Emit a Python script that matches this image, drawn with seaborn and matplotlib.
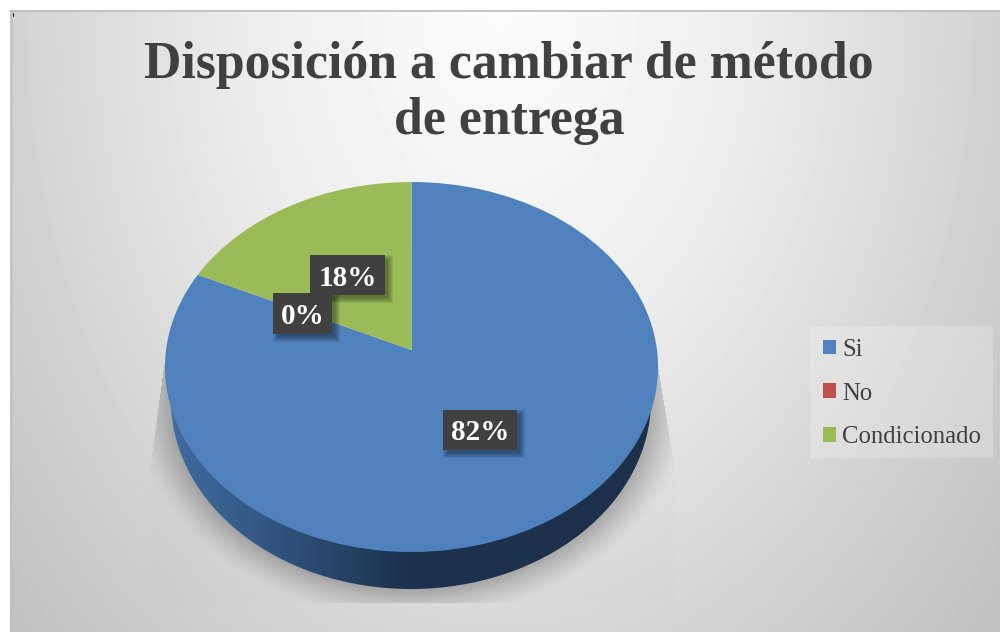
import matplotlib
matplotlib.use("Agg")
import matplotlib.pyplot as plt
import numpy as np
import seaborn as sns
from matplotlib.patches import Ellipse, Rectangle
from matplotlib.transforms import Transform

TITLE = "Disposición a cambiar de método\nde entrega"
CATEGORIES = ["Si", "No", "Condicionado"]
VALUES = [82, 0, 18]
COLORS = ["#4f81bd", "#c0504d", "#9bbb59"]
TEXT_COLOR = "#404040"

W, H = 1000, 632
TILT = 17 / 185  # the wedge apex sits above the ellipse centre


class Tilt(Transform):
    """Perspective map of the unit circle onto itself, moves the centre up."""
    input_dims = output_dims = 2

    def transform_non_affine(self, xy):
        xy = np.asarray(xy, dtype=float)
        x, y = xy[:, 0], xy[:, 1]
        d = 1 + TILT * y
        return np.column_stack([x * np.sqrt(1 - TILT**2) / d, (y + TILT) / d])


sns.set_theme(style="white")
plt.rcParams["font.family"] = ["Liberation Serif", "DejaVu Serif"]
palette = sns.color_palette(COLORS)

fig = plt.figure(figsize=(W / 100, H / 100), dpi=100, facecolor="white")

# background, shadow and pie wall
bg = fig.add_axes([0, 0, 1, 1], zorder=0)
bg.axis("off")

xx, yy = np.meshgrid(np.arange(10, W) + 0.5, np.arange(10, H) + 0.5)
dist = np.hypot((xx - 500) / 500, (yy - 20) / 690)
grey = np.interp(dist, [0, 0.5, 1, 1.35], [0.99, 0.93, 0.82, 0.75])

edge = np.hypot((xx - 411) / 240, (yy - 400) / 189)
shade = 0.24 * np.clip(1 - (edge - 1) / 0.16, 0, 1) ** 1.3
left = 165 - (yy - 360) * 15 / 110
right = 657 + (yy - 360) * 18 / 110
mask = (yy > 360) & (yy < 603) & (xx > np.maximum(left, 150)) & (xx < np.minimum(right, 675))
grey = np.where(mask, grey * (1 - shade) - 0.006, grey)
bg.imshow(grey, extent=(10, W, H, 10), cmap="gray", vmin=0, vmax=1, aspect="auto", zorder=0)

bg.plot([10, W], [10.5, 10.5], color="#bdbdbd", lw=1.2, zorder=1)
bg.plot([10.5, 10.5], [10, H], color="#bdbdbd", lw=1.0, zorder=1)
bg.plot([12.5, 12.5], [13, 16], color="#222222", lw=0.8, zorder=1)

wall_x = np.arange(165, 660)
wall = np.column_stack([
    np.interp(wall_x, [172, 250, 300, 350, 400, 660], stops)
    for stops in (
        (0x40, 0x34, 0x2d, 0x24, 0x1d, 0x1c),
        (0x6b, 0x5a, 0x4d, 0x41, 0x32, 0x30),
        (0xa0, 0x86, 0x74, 0x62, 0x4f, 0x4a),
    )
]) / 255
wall_im = bg.imshow(wall[np.newaxis, :, :], extent=(165, 660, 600, 350), aspect="auto", zorder=2)
wall_im.set_clip_path(Ellipse((411, 400), 480, 378, transform=bg.transData))
bg.set_xlim(0, W)
bg.set_ylim(H, 0)

# pie top face
ax = fig.add_axes([165 / W, (H - 552) / H, 493 / W, 370 / H], zorder=1)
wedges, _ = ax.pie(
    VALUES, colors=palette, startangle=90, counterclock=False, radius=1,
    wedgeprops={"linewidth": 0, "clip_on": False},
)
ax.set_aspect("auto")
ax.set_xlim(-1, 1)
ax.set_ylim(-1, 1)
ax.patch.set_alpha(0)
for w in wedges:
    w.set_transform(Tilt() + ax.transData)

# texts
top = fig.add_axes([0, 0, 1, 1], zorder=2)
top.set_xlim(0, W)
top.set_ylim(H, 0)
top.axis("off")

top.text(509, 93, TITLE, ha="center", va="center", fontsize=37.3, fontweight="bold",
         color=TEXT_COLOR, linespacing=1.21)

boxes = [(443, 410, 74, 40), (273, 293, 59, 41), (310, 255, 75, 40)]
for x, y, bw, bh in boxes:
    for grow in range(6):
        top.add_patch(Rectangle((x + 5 - grow, y + 5 - grow), bw + 2 * grow - 2, bh + 2 * grow - 2,
                                fc="black", ec="none", alpha=0.07, zorder=3))
for value, (x, y, bw, bh) in zip(VALUES, boxes):
    top.add_patch(Rectangle((x, y), bw, bh, fc="#404040", ec="none", zorder=4))
    top.text(x + bw / 2, y + bh / 2 + 3, f"{value}%", ha="center", va="center", fontsize=21,
             fontweight="bold", color="white", zorder=5)

top.add_patch(Rectangle((810, 326), 183, 132, fc="white", ec="none", alpha=0.22, zorder=3))
leg = top.legend(
    wedges, CATEGORIES, loc="center left", bbox_to_anchor=(823 / W, 1 - 393.5 / H),
    frameon=False, fontsize=17.8, labelcolor=TEXT_COLOR, handlelength=0.526, handleheight=0.526,
    handletextpad=0.24, labelspacing=0.87, borderpad=0, borderaxespad=0,
)
leg.set_zorder(6)

fig.savefig("out.png", dpi=100)
